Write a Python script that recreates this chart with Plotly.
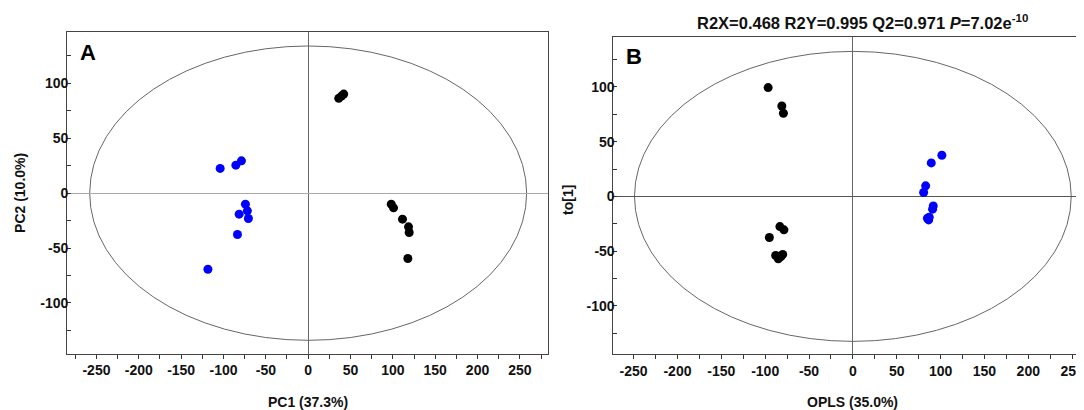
import plotly.graph_objects as go

# ---------------- data ----------------
# Panel A (PCA scores)
a_blue_x = [-103.9, -85.4, -78.8, -74.1, -71.8, -81.5, -70.6, -83.5, -118.4]
a_blue_y = [22.5, 25.5, 29.4, -10.0, -16.1, -19.1, -23.1, -37.7, -69.3]
a_black_x = [36.1, 39.3, 42.0, 98.1, 100.8, 111.4, 118.5, 119.3, 117.7]
a_black_y = [86.3, 88.4, 90.2, -10.0, -13.4, -23.7, -30.7, -35.8, -59.5]

# Panel B (OPLS-DA scores)
b_black_x = [-96.6, -81.0, -79.2, -83.2, -78.6, -95.2, -88.0, -85.0, -82.0, -80.0]
b_black_y = [99.4, 82.6, 76.0, -27.6, -30.6, -37.6, -54.0, -57.0, -55.0, -53.0]
b_blue_x = [101.5, 89.4, 83.0, 80.7, 91.7, 90.9, 87.1, 86.4, 85.0]
b_blue_y = [37.6, 30.6, 9.6, 3.5, -8.7, -11.7, -19.0, -21.5, -20.0]

# Hotelling T2 ellipse semi-axes
ell_a = (258, 134)
ell_b = (249, 132.5)

tick_vals = [-250, -200, -150, -100, -50, 0, 50, 100, 150, 200, 250]
tick_text = [str(v) for v in tick_vals]
ytick_vals = [-100, -50, 0, 50, 100]
ytick_text = [str(v) for v in ytick_vals]

title_b = "R2X=0.468 R2Y=0.995 Q2=0.971 <i>P</i>=7.02e<sup>-10</sup>"

# ---------------- figure ----------------
OFF = 8  # page body margin
W, H = 1084 - OFF, 410 - OFF
FONT = "Liberation Sans, Arial, sans-serif"

fig = go.Figure()
fig.add_trace(go.Scatter(x=a_blue_x, y=a_blue_y, mode="markers",
                         marker=dict(color="#0000ff", size=9), xaxis="x", yaxis="y"))
fig.add_trace(go.Scatter(x=a_black_x, y=a_black_y, mode="markers",
                         marker=dict(color="#000000", size=9), xaxis="x", yaxis="y"))
fig.add_trace(go.Scatter(x=b_black_x, y=b_black_y, mode="markers",
                         marker=dict(color="#000000", size=9), xaxis="x2", yaxis="y2"))
fig.add_trace(go.Scatter(x=b_blue_x, y=b_blue_y, mode="markers",
                         marker=dict(color="#0000ff", size=9), xaxis="x2", yaxis="y2"))

def px_x(p):
    return (p - OFF) / W

def px_y(p):
    return 1 - (p - OFF) / H

tickfont = dict(family=FONT, size=14, color="#111", weight="bold")

common_x = dict(tickvals=tick_vals, ticktext=tick_text, ticks="outside", ticklen=4,
                tickcolor="#333", showline=True, linecolor="#444", linewidth=1,
                showgrid=False, zeroline=True, zerolinewidth=1,
                ticklabeloverflow="allow",
                minor=dict(tickvals=[v + 25 for v in tick_vals] + [-275], ticks="outside",
                           ticklen=4, tickcolor="#333"),
                tickfont=tickfont)
common_y = dict(tickvals=ytick_vals, ticktext=ytick_text, ticks="inside", ticklen=4,
                tickcolor="#333", showline=True, linecolor="#444", linewidth=1,
                showgrid=False, zeroline=True, zerolinewidth=1,
                ticklabelstandoff=-5,
                minor=dict(tickvals=[-125, -75, -25, 25, 75, 125], ticks="inside",
                           ticklen=4, tickcolor="#333"),
                tickfont=tickfont)

fig.update_layout(
    width=W, height=H,
    margin=dict(l=0, r=0, t=0, b=0),
    paper_bgcolor="white", plot_bgcolor="white",
    showlegend=False,
    font=dict(family=FONT, color="#111"),
    xaxis=dict(domain=[px_x(67.3), px_x(550)], range=[-284.7, 283.2], mirror=True,
               zerolinecolor="#666", anchor="y", **common_x),
    yaxis=dict(domain=[px_y(353.5), px_y(31.7)], range=[-146, 147], mirror=True,
               zerolinecolor="#aaaaaa", anchor="x", **common_y),
    xaxis2=dict(domain=[px_x(615.7), 1.0], range=[-273, 259], mirror=True,
                zerolinecolor="#666", anchor="y2", **common_x),
    yaxis2=dict(domain=[px_y(354.3), px_y(36.7)], range=[-144.3, 145.9], mirror=False,
                zerolinecolor="#555", anchor="x2", **common_y),
)

# ellipses
fig.add_shape(type="circle", xref="x", yref="y", x0=-ell_a[0], x1=ell_a[0],
              y0=-ell_a[1], y1=ell_a[1], line=dict(color="#666", width=1), layer="below")
fig.add_shape(type="circle", xref="x2", yref="y2", x0=-ell_b[0], x1=ell_b[0],
              y0=-ell_b[1], y1=ell_b[1], line=dict(color="#666", width=1), layer="below")

# text
lab = dict(family=FONT, size=14, color="#111", weight="bold")

def note(text, x, y, font, angle=0):
    fig.add_annotation(text=text, xref="paper", yref="paper", x=px_x(x), y=px_y(y),
                       xanchor="center", yanchor="middle", showarrow=False,
                       font=font, textangle=angle)

note("PC1 (37.3%)", 309, 402, lab)
note("PC2 (10.0%)", 20, 193, lab, -90)
note("OPLS (35.0%)", 856, 402, lab)
note("to[1]", 570, 200, lab, -90)
note("A", 88, 53, dict(family=FONT, size=22, color="#000", weight="bold"))
note("B", 636, 57, dict(family=FONT, size=22, color="#000", weight="bold"))
note(title_b, 866, 22, dict(family=FONT, size=16.5, color="#111", weight="bold"))

fig.write_html("out.html")
